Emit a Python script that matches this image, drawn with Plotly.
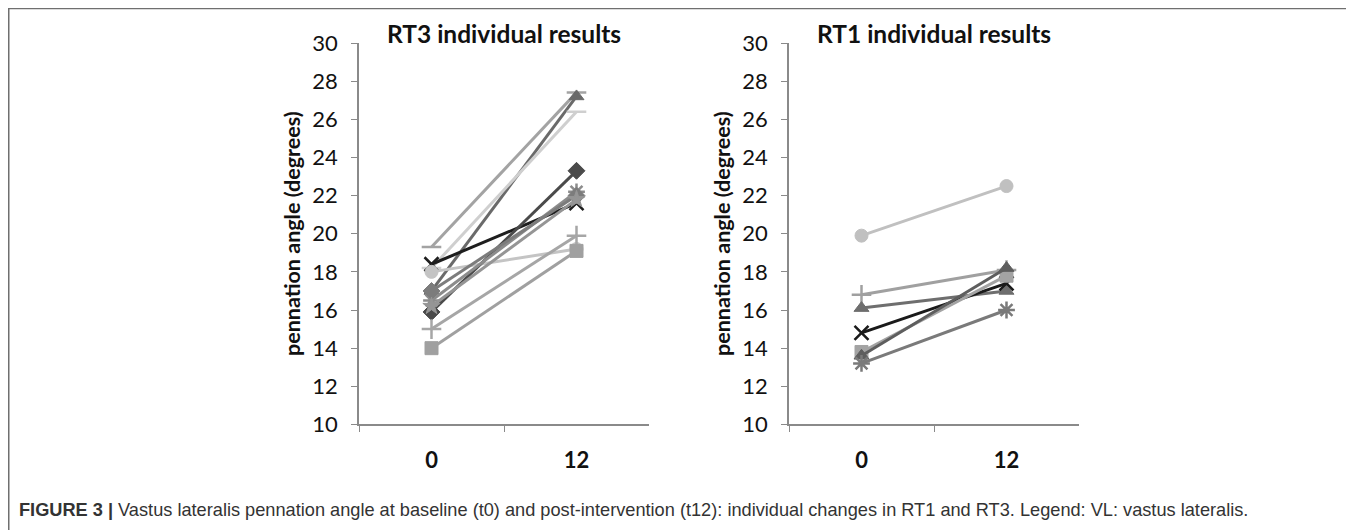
import plotly.graph_objects as go

weeks = ["0", "12"]
y_ticks = list(range(10, 31, 2))

# RT3 individual results (t0, t12)
rt3_names = ["P1", "P2", "P3", "P4", "P5", "P6", "P7", "P8", "P9", "P10", "P11"]
rt3_t0 = [19.3, 17.0, 18.2, 18.4, 18.0, 15.9, 16.5, 17.0, 16.2, 15.0, 14.0]
rt3_t12 = [27.4, 27.2, 26.4, 21.6, 19.2, 23.3, 22.2, 22.0, 21.8, 19.9, 19.1]
rt3_symbols = ["line-ew", "triangle-up", "line-ew", "x-thin", "circle", "diamond",
               "asterisk", "diamond", "star", "cross-thin", "square"]
rt3_colors = ["#a3a3a3", "#6a6a6a", "#cfcfcf", "#1e1e1e", "#c4c4c4", "#4a4a4a",
              "#8c8c8c", "#7c7c7c", "#959595", "#a6a6a6", "#a0a0a0"]

# RT1 individual results (t0, t12)
rt1_names = ["Q1", "Q2", "Q3", "Q4", "Q5", "Q6", "Q7"]
rt1_t0 = [19.9, 16.8, 16.1, 14.8, 13.8, 13.6, 13.2]
rt1_t12 = [22.5, 18.1, 17.0, 17.4, 17.8, 18.2, 16.0]
rt1_symbols = ["circle", "cross-thin", "triangle-up", "x-thin", "square", "triangle-up", "asterisk"]
rt1_colors = ["#c0c0c0", "#a0a0a0", "#6e6e6e", "#1a1a1a", "#a3a3a3", "#5e5e5e", "#7a7a7a"]

titles = ["RT3 individual results", "RT1 individual results"]
y_title = "pennation angle (degrees)"
caption_bold = "FIGURE 3 |"
caption_text = (" Vastus lateralis pennation angle at baseline (t0) and post-intervention (t12): "
                "individual changes in RT1 and RT3. Legend: VL: vastus lateralis.")

FONT = "Lato"
W, H = 1346, 530
# mapping from target picture pixels to figure pixels (calibrated on earlier renders)
OX, OY, SY = 8, 22, 0.948


def px(X):
    return (X - OX) / W


def py(Y):
    return 1 - ((Y - OY) / SY) / H


fig = go.Figure()


def add_group(t0, t12, symbols, colors, names, xa, ya):
    for a, b, s, c, n in zip(t0, t12, symbols, colors, names):
        thin = s.endswith("thin") or s in ("asterisk", "line-ew")
        fig.add_trace(go.Scatter(
            x=weeks, y=[a, b], mode="lines+markers", name=n,
            xaxis=xa, yaxis=ya, showlegend=False,
            line=dict(color=c, width=3),
            marker=dict(symbol=s + ("-open" if s == "asterisk" else ""), size=13 if not thin else 14,
                        color=c, line=dict(color=c, width=2.5 if thin else 1)),
        ))


add_group(rt3_t0, rt3_t12, rt3_symbols, rt3_colors, rt3_names, "x", "y")
add_group(rt1_t0, rt1_t12, rt1_symbols, rt1_colors, rt1_names, "x2", "y2")

x_dom = [[px(359), px(649)], [px(789), px(1079)]]
y_dom = [py(424), py(43)]

axis_color = "#8a8a8a"
for i in range(2):
    sfx = "" if i == 0 else str(i + 1)
    fig.layout["xaxis" + sfx] = dict(
        domain=x_dom[i], type="category", range=[-0.5, 1.5],
        anchor="y" + sfx, showline=True, linecolor=axis_color, linewidth=1.5,
        ticks="outside", tickson="boundaries", ticklen=6, tickcolor=axis_color,
        showgrid=False, zeroline=False, fixedrange=True,
        tickfont=dict(family=FONT, size=22, color="#111111", weight="bold"),
        ticklabelstandoff=15,
    )
    fig.layout["yaxis" + sfx] = dict(
        domain=y_dom, range=[10, 30], tickvals=y_ticks,
        anchor="x" + sfx, showline=True, linecolor=axis_color, linewidth=1.5,
        ticks="outside", ticklen=6, tickcolor=axis_color,
        showgrid=False, zeroline=False,
        tickfont=dict(family=FONT, size=22, color="#111111"),
        ticklabelstandoff=9,
        title=dict(text=y_title, font=dict(family=FONT, size=21.5, color="#111111", weight="bold"),
                   standoff=6),
    )
    fig.add_annotation(
        x=(x_dom[i][0] + x_dom[i][1]) / 2, y=py(33), xref="paper", yref="paper",
        text="<b>" + titles[i] + "</b>", showarrow=False,
        font=dict(family=FONT, size=24.5, color="#111111"), xanchor="center", yanchor="middle",
    )

fig.add_annotation(
    x=px(17), y=py(509), xref="paper", yref="paper", xanchor="left", yanchor="middle",
    text="<b>" + caption_bold + "</b>" + caption_text, showarrow=False,
    font=dict(family="Liberation Sans", size=18.2, color="#333333"),
)

fig.add_shape(type="rect", xref="paper", yref="paper",
              x0=px(8.75), x1=px(1352), y0=py(545), y1=py(8.5),
              line=dict(color="#6f6f6f", width=1.5), fillcolor="rgba(0,0,0,0)")

fig.update_layout(
    width=W, height=H, margin=dict(l=0, r=0, t=0, b=0),
    paper_bgcolor="white", plot_bgcolor="white", showlegend=False,
)

fig.write_html("out.html")
